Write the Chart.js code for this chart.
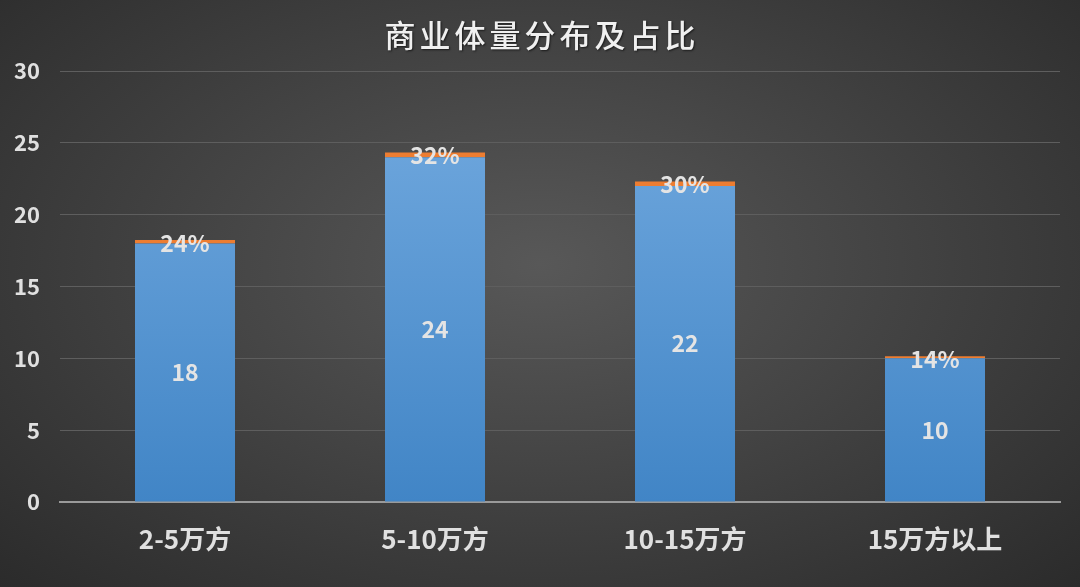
<!DOCTYPE html>
<html>
<head>
<meta charset="utf-8">
<script src="https://cdn.jsdelivr.net/npm/chart.js@4"></script>
<style>
  html, body { margin: 0; padding: 0; }
  body {
    width: 1080px; height: 587px; overflow: hidden;
    background: radial-gradient(ellipse at 50% 45%, #585858 0%, #444 45%, #2b2b2b 100%);
  }
  #wrap { width: 1080px; height: 587px; }
</style>
</head>
<body>
<div id="wrap"><canvas id="chart" width="1080" height="587"></canvas></div>
<script>
// chart data
const categories = ['2-5万方', '5-10万方', '10-15万方', '15万方以上'];
const volumes = [18, 24, 22, 10];
const shares = [0.24, 0.32, 0.30, 0.14];
const chartTitle = '商业体量分布及占比';

const FONT = '"Noto Sans CJK SC", "Noto Sans", sans-serif';

// draws value and percent labels on the bars
const barLabels = {
    id: 'barLabels',
    afterDatasetsDraw(chart) {
        const ctx = chart.ctx;
        const blue = chart.getDatasetMeta(0).data;
        const orange = chart.getDatasetMeta(1).data;
        ctx.save();
        ctx.fillStyle = '#e4e4e4';
        ctx.textAlign = 'center';
        ctx.textBaseline = 'middle';
        ctx.font = 'bold 23px ' + FONT;
        blue.forEach((bar, i) => {
            const y = (bar.y + bar.base) / 2;
            ctx.fillText(volumes[i], bar.x, y);
        });
        orange.forEach((bar, i) => {
            ctx.fillText(Math.round(shares[i] * 100) + '%', bar.x, bar.y + 3);
        });
        ctx.restore();
    }
};

const chartTitlePlugin = {
    id: 'chartTitle',
    beforeDraw(chart) {
        const ctx = chart.ctx;
        ctx.save();
        ctx.fillStyle = '#f0f0f0';
        ctx.textAlign = 'center';
        ctx.textBaseline = 'middle';
        ctx.font = '500 31px ' + FONT;
        ctx.letterSpacing = '4px';
        ctx.shadowColor = 'rgba(0,0,0,0.6)';
        ctx.shadowOffsetX = 1;
        ctx.shadowOffsetY = 1;
        ctx.shadowBlur = 2;
        ctx.fillText(chartTitle, 542, 35);
        ctx.restore();
    }
};

const blueFill = (context) => {
    const area = context.chart.chartArea;
    if (!area) return '#5b9bd5';
    const g = context.chart.ctx.createLinearGradient(0, area.top, 0, area.bottom);
    g.addColorStop(0, '#74abe0');
    g.addColorStop(1, '#4185c6');
    return g;
};

new Chart(document.getElementById('chart'), {
    type: 'bar',
    data: {
        labels: categories,
        datasets: [
            {
                data: volumes,
                backgroundColor: blueFill,
                categoryPercentage: 1,
                barPercentage: 0.4
            },
            {
                data: shares,
                backgroundColor: '#ed7d31',
                categoryPercentage: 1,
                barPercentage: 0.4
            }
        ]
    },
    options: {
        responsive: false,
        animation: false,
        layout: {
            padding: { top: 71, right: 20, bottom: 0, left: 0 }
        },
        plugins: {
            legend: { display: false },
            tooltip: { enabled: false }
        },
        scales: {
            x: {
                stacked: true,
                afterFit: (scale) => { scale.height = 85; },
                grid: { display: false, drawTicks: false },
                border: { color: '#9a9a9a', width: 2 },
                ticks: {
                    color: '#e0e0e0',
                    padding: 22,
                    font: { family: FONT, size: 26, weight: 'bold' }
                }
            },
            y: {
                stacked: true,
                min: 0,
                max: 30,
                afterFit: (scale) => { scale.width = 60; },
                grid: { color: '#5e5e5e', lineWidth: 1, drawTicks: false },
                border: { display: false },
                ticks: {
                    stepSize: 5,
                    color: '#e0e0e0',
                    padding: 20,
                    font: { family: FONT, size: 22, weight: 'bold' }
                }
            }
        }
    },
    plugins: [chartTitlePlugin, barLabels]
});
</script>
</body>
</html>
